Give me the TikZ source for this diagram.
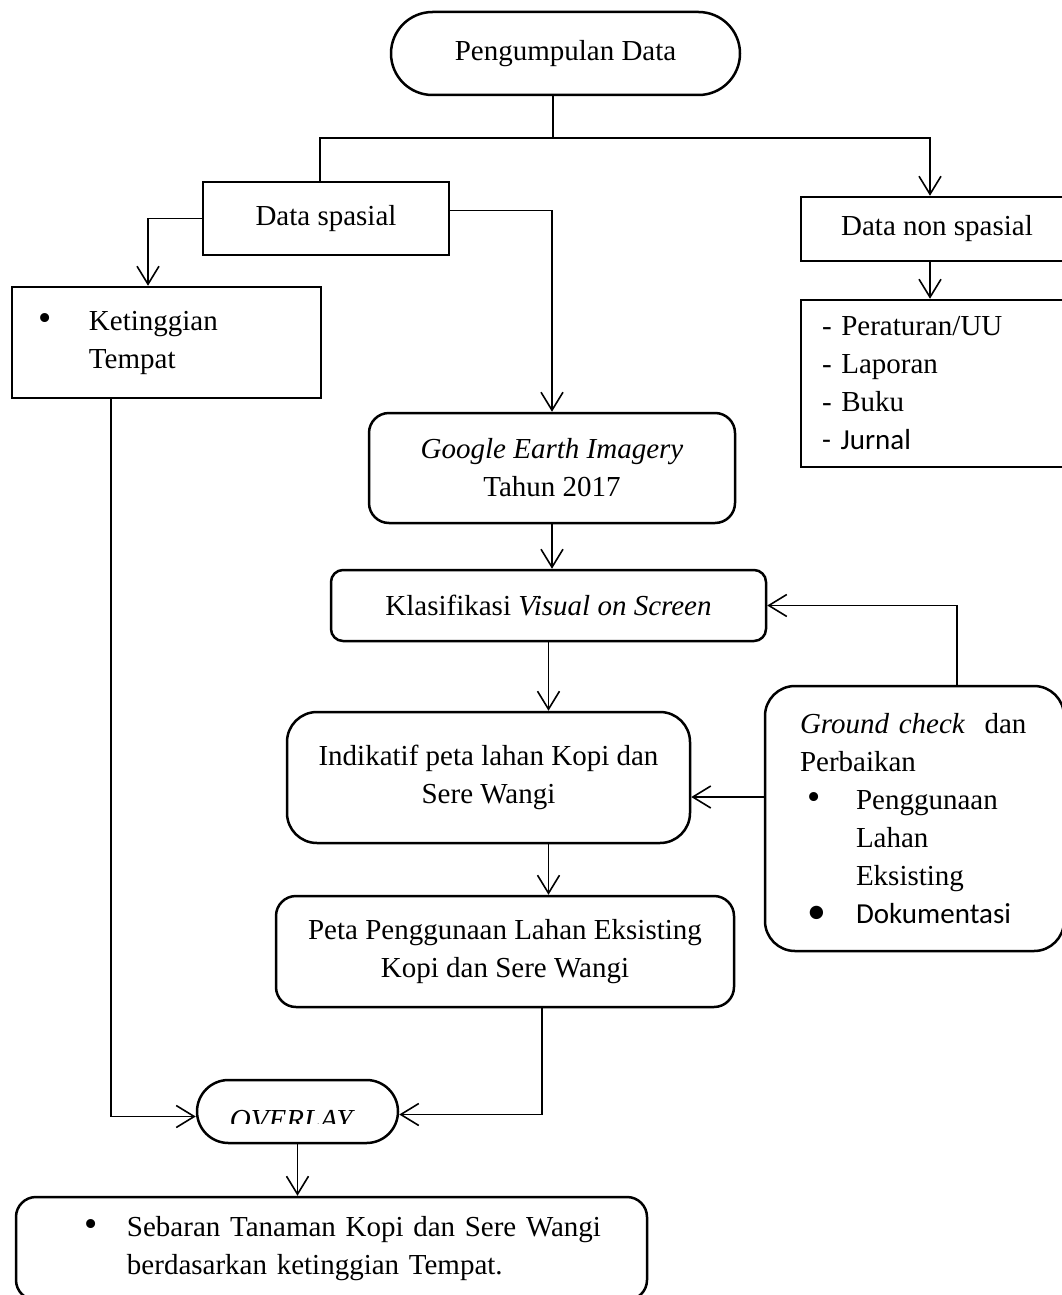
\documentclass[tikz,border=0pt]{standalone}
\usepackage{fontspec}
\setmainfont{Liberation Serif}
\newfontfamily\calibfont{Carlito}
\usetikzlibrary{arrows.meta,shapes.misc}
\newcommand{\butir}[2][50pt]{\makebox[#1][l]{\scalebox{1.3}{\textbullet}}#2}

\begin{document}
\begin{tikzpicture}[x=1pt,y=-1pt,
  every node/.style={font=\fontsize{29}{38}\selectfont},
  kotak/.style={draw,line width=2.5pt,rectangle,inner sep=0pt},
  bulat/.style={kotak,rounded corners=#1},
  bulat/.default=20pt,
  ujung/.style={draw,line width=2.5pt,rounded rectangle,inner sep=0pt},
  garis/.style={line width=1.4pt},
  panah/.style={garis,-{Straight Barb[length=18pt,width=22pt,line width=1.6pt]}}]
\clip (0,0) rectangle (1062,1295);
% kotak-kotak
\node[ujung,minimum width=349pt,minimum height=83pt] (kumpul) at (565.5,53.5) {Pengumpulan Data};
\node[kotak,minimum width=246pt,minimum height=73pt] (spasial) at (326,218.5) {Data spasial};
\node[kotak,minimum width=272pt,minimum height=64pt] (nonspasial) at (937,229) {Data non spasial};
\node[kotak,minimum width=299pt,minimum height=167pt,text width=299pt,align=left] (pustaka) at (950.5,383.5)
  {\hspace*{21pt}- Peraturan/UU\\\hspace*{21pt}- Laporan\\\hspace*{21pt}- Buku\\\hspace*{21pt}{\calibfont - Jurnal}};
\node[kotak,minimum width=309pt,minimum height=111pt,text width=309pt,align=left] (tinggi) at (166.5,342.5)
  {\hspace*{27pt}\butir{Ketinggian}\\\hspace*{77pt}Tempat};
\node[bulat,minimum width=366pt,minimum height=110pt,align=center] (google) at (552,468)
  {\textit{Google Earth Imagery}\\Tahun 2017};
\node[bulat=12pt,minimum width=435pt,minimum height=71pt] (klasifikasi) at (548.5,605.5)
  {Klasifikasi \textit{Visual on Screen}};
\node[bulat=30pt,minimum width=403pt,minimum height=131pt,align=center] (indikatif) at (488.5,777.5)
  {Indikatif peta lahan Kopi dan\\Sere Wangi};
\node[bulat=30pt,minimum width=299pt,minimum height=265pt,text width=299pt,align=left] (cek) at (914.5,818.5)
  {\hspace*{35pt}\textit{Ground check}\ \ dan\\\hspace*{35pt}Perbaikan\\
   \hspace*{42pt}\butir[49pt]{Penggunaan}\\\hspace*{91pt}Lahan\\\hspace*{91pt}Eksisting\\
   \hspace*{42pt}{\calibfont\butir[49pt]{Dokumentasi}}};
\node[bulat,minimum width=458pt,minimum height=111pt,align=center] (peta) at (505,951.5)
  {Peta Penggunaan Lahan Eksisting\\Kopi dan Sere Wangi};
\node[ujung,minimum width=201pt,minimum height=63pt] (overlay) at (297.5,1111.5) {};
\begin{scope}
\clip (200,1080) rectangle (395,1123);
\node[anchor=base] (overlayteks) at (292.5,1129) {\textit{OVERLAY}};
\end{scope}
\node[bulat,minimum width=631pt,minimum height=103pt,text width=631pt,align=left] (hasil) at (331.5,1248.5)
  {\hspace*{69pt}\butir[42pt]{Sebaran Tanaman Kopi dan Sere Wangi}\\\hspace*{111pt}berdasarkan ketinggian Tempat.};
% garis penghubung
\coordinate (cabang) at (553,138);
\coordinate (kespasial) at ([xshift=-6pt]spasial.north);
\coordinate (kenon) at ([xshift=-7pt]nonspasial.north);
\coordinate (darinon) at ([xshift=-7pt]nonspasial.south);
\coordinate (darispasial) at ([yshift=8pt]spasial.east);
\coordinate (ketinggi) at ([xshift=-18.5pt]tinggi.north);
\coordinate (daritinggi) at ([xshift=-55.5pt]tinggi.south);
\coordinate (naikcek) at ([xshift=42.5pt]cek.north);
\coordinate (kiricek) at ([yshift=21.5pt]cek.west);
\coordinate (daripeta) at ([xshift=37pt]peta.south);
\coordinate (overkiri) at ([yshift=-5pt]overlay.west);
\coordinate (overkanan) at ([yshift=-3pt]overlay.east);
\draw[garis] (kumpul.south -| cabang) -- (cabang);
\draw[garis] (cabang) -| (kespasial);
\draw[panah] (cabang) -| (kenon);
\draw[panah] (darinon) -- (darinon |- pustaka.north);
\draw[panah] (spasial.west) -| (ketinggi);
\draw[panah] (darispasial) -| (google.north);
\draw[panah] (google.south) -- (google.south |- klasifikasi.north);
\draw[panah] (klasifikasi.south) -- (klasifikasi.south |- indikatif.north);
\draw[panah] (klasifikasi.south |- indikatif.south) -- (klasifikasi.south |- peta.north);
\draw[panah] (naikcek) |- (klasifikasi.east);
\draw[panah] (kiricek) -- (kiricek -| indikatif.east);
\draw[panah] (daritinggi) |- (overkiri);
\draw[panah] (daripeta) |- (overkanan);
\draw[panah] (overlay.south) -- (overlay.south |- hasil.north);
\end{tikzpicture}
\end{document}
